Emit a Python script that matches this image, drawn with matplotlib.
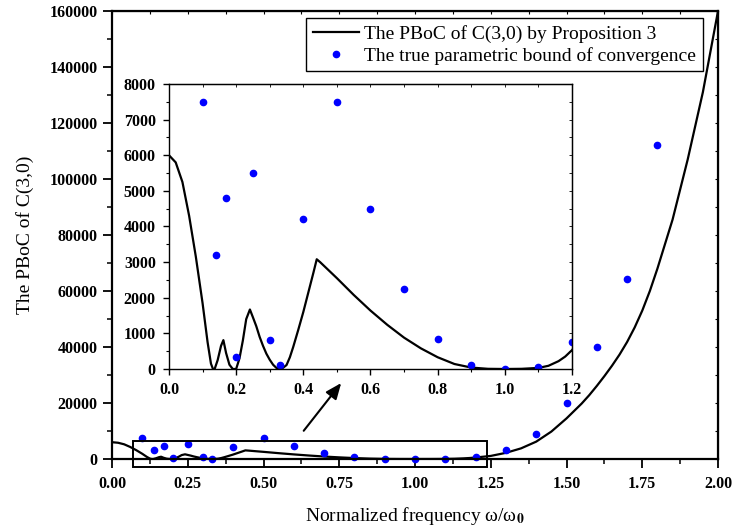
import numpy as np
import matplotlib.pyplot as plt
from matplotlib.ticker import MultipleLocator

plt.rcParams['font.family'] = ['Liberation Serif', 'DejaVu Serif']
plt.rcParams['mathtext.fontset'] = 'stix'

# PBoC curve by Proposition 3
curve_x = [0.0, 0.02, 0.04, 0.06, 0.08, 0.10, 0.115, 0.125, 0.131, 0.136, 0.145, 0.155,
           0.162, 0.17, 0.18, 0.19, 0.2, 0.21, 0.22, 0.23, 0.241, 0.25, 0.26, 0.27,
           0.28, 0.29, 0.30, 0.31, 0.32, 0.335, 0.35, 0.36, 0.37, 0.385, 0.40, 0.415,
           0.43, 0.44, 0.45, 0.5, 0.55, 0.6, 0.65, 0.7, 0.75, 0.8, 0.85, 0.9, 0.95,
           1.0, 1.05, 1.1, 1.13, 1.16, 1.18, 1.2, 1.25, 1.3, 1.35, 1.4, 1.45, 1.5,
           1.55, 1.575, 1.6, 1.625, 1.65, 1.675, 1.7, 1.725, 1.75, 1.775, 1.8, 1.85,
           1.9, 1.95, 2.0]
curve_y = [6000, 5800, 5250, 4300, 3150, 1850, 750, 150, 0, 0, 250, 650,
           810, 450, 120, 0, 0, 300, 800, 1400, 1670, 1450, 1200, 900,
           650, 430, 260, 120, 30, 0, 110, 330, 620, 1100, 1600, 2150,
           2700, 3080, 3000, 2550, 2080, 1640, 1240, 880, 580, 330, 140, 40, 5,
           0, 5, 30, 90, 220, 350, 530, 1100, 2200, 3800, 6200, 9800, 14500,
           19800, 22800, 26100, 29600, 33300, 37300, 41800, 47000, 53000, 60000, 68000, 85500,
           107000, 131000, 160000]

# true parametric bound of convergence
true_x = [0.1, 0.14, 0.17, 0.2, 0.25, 0.3, 0.33, 0.4, 0.5, 0.6, 0.7, 0.8, 0.9,
          1.0, 1.1, 1.2, 1.3, 1.4, 1.5, 1.6, 1.7, 1.8]
true_y = [7500, 3200, 4800, 350, 5500, 800, 100, 4200, 7500, 4500, 2250, 850, 100,
          0, 60, 750, 3300, 8800, 20100, 40100, 64300, 112100]

fig = plt.figure(figsize=(7.35, 5.31), dpi=100)
ax = fig.add_axes([0.1524, 0.1356, 0.8245, 0.8437])

ax.plot(curve_x, curve_y, color='black', lw=1.6, label='The PBoC of C(3,0) by Proposition 3')
ax.plot(true_x, true_y, 'o', color='#0000ff', ms=4.5, clip_on=False,
        label='The true parametric bound of convergence')

ax.set_xlim(0, 2)
ax.set_ylim(0, 160000)
ax.xaxis.set_major_locator(MultipleLocator(0.25))
ax.xaxis.set_minor_locator(MultipleLocator(0.125))
ax.yaxis.set_major_locator(MultipleLocator(20000))
ax.yaxis.set_minor_locator(MultipleLocator(10000))
ax.xaxis.set_major_formatter(lambda v, p: f'{v:.2f}')
ax.tick_params(which='major', direction='out', length=6.5, width=1.3, labelsize=11.5)
ax.tick_params(which='minor', direction='out', length=3.5, width=1.1)
ax.tick_params(axis='y', which='major', pad=4)
ax.tick_params(axis='x', which='major', pad=6)
for lab in ax.get_xticklabels() + ax.get_yticklabels():
    lab.set_fontweight('bold')
for s in ax.spines.values():
    s.set_linewidth(1.6)

# inward ticks on top/right
top = ax.secondary_xaxis('top')
top.xaxis.set_major_locator(MultipleLocator(0.125))
top.tick_params(direction='in', length=2.5, width=0.8, labeltop=False)
right = ax.secondary_yaxis('right')
right.yaxis.set_major_locator(MultipleLocator(10000))
right.tick_params(direction='in', length=2.5, width=0.8, labelright=False)

ax.set_xlabel(r'Normalized frequency ω/ω$_\mathbf{0}$', fontsize=14, labelpad=9)
ax.set_ylabel('The PBoC of C(3,0)', fontsize=14, labelpad=11)

ax.legend(loc='upper right', bbox_to_anchor=(703 / 735, 1 - 18 / 531),
          bbox_transform=fig.transFigure, borderaxespad=0, fontsize=14,
          frameon=True, fancybox=False, edgecolor='black', framealpha=1,
          handlelength=2.4, handletextpad=0.25, labelspacing=0.2, borderpad=0.35)
ax.get_legend().get_frame().set_linewidth(1.0)

# zoom box and arrow
ax.add_patch(plt.Rectangle((0.07, -2900), 1.168, 9330, fill=False, ec='black',
                           lw=1.4, clip_on=False, zorder=3))
ax.annotate('', xy=(0.762, 27900), xytext=(0.627, 9300),
            arrowprops=dict(arrowstyle='-|>,head_length=0.6,head_width=0.25',
                            color='black', lw=1.5, mutation_scale=16))

# inset
ins = fig.add_axes([0.2299, 0.3051, 0.5483, 0.5367])
ins.plot(curve_x, curve_y, color='black', lw=1.6)
ins.plot(true_x, true_y, 'o', color='#0000ff', ms=4.5)
ins.set_xlim(0, 1.2)
ins.set_ylim(0, 8000)
ins.xaxis.set_major_locator(MultipleLocator(0.2))
ins.xaxis.set_minor_locator(MultipleLocator(0.1))
ins.yaxis.set_major_locator(MultipleLocator(1000))
ins.yaxis.set_minor_locator(MultipleLocator(500))
ins.xaxis.set_major_formatter(lambda v, p: f'{v:.1f}')
ins.tick_params(which='major', direction='out', length=4.5, width=1.0, labelsize=11.5, pad=5)
ins.tick_params(which='minor', direction='out', length=2.5, width=0.8)
for lab in ins.get_xticklabels() + ins.get_yticklabels():
    lab.set_fontweight('bold')
for s in ins.spines.values():
    s.set_linewidth(1.0)
itop = ins.secondary_xaxis('top')
itop.xaxis.set_major_locator(MultipleLocator(0.1))
itop.tick_params(direction='in', length=2, width=0.6, labeltop=False)
iright = ins.secondary_yaxis('right')
iright.yaxis.set_major_locator(MultipleLocator(500))
iright.tick_params(direction='in', length=2, width=0.6, labelright=False)

fig.savefig('out.png', dpi=100)
